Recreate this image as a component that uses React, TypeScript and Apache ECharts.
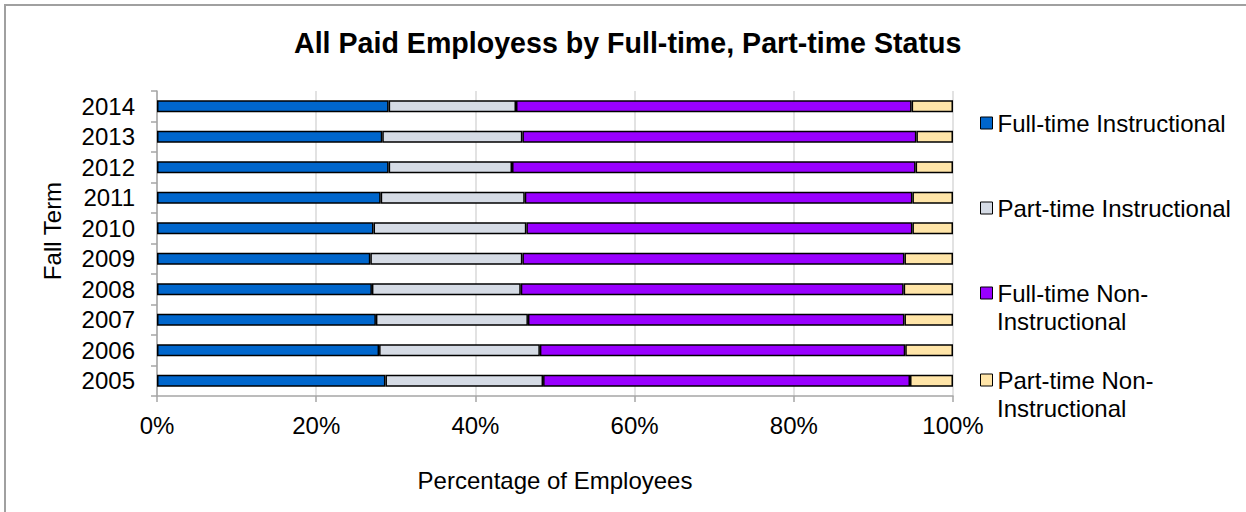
import React, { useEffect, useRef } from "react";
import * as echarts from "echarts";

const years = ["2005", "2006", "2007", "2008", "2009", "2010", "2011", "2012", "2013", "2014"];
const fullTimeInstructional = [28.7, 27.9, 27.5, 27.0, 26.8, 27.2, 28.1, 29.1, 28.3, 29.1];
const partTimeInstructional = [19.8, 20.2, 19.1, 18.7, 19.1, 19.2, 18.1, 15.5, 17.6, 16.0];
const fullTimeNonInstructional = [46.1, 45.9, 47.3, 48.1, 48.0, 48.5, 48.7, 50.7, 49.5, 49.7];
const partTimeNonInstructional = [5.4, 6.0, 6.1, 6.2, 6.1, 5.1, 5.1, 4.7, 4.6, 5.2];

const seriesNames = [
  "Full-time Instructional",
  "Part-time Instructional",
  "Full-time Non-Instructional",
  "Part-time Non-Instructional",
];
const legendFirstLines = [
  "Full-time Instructional",
  "Part-time Instructional",
  "Full-time Non-",
  "Part-time Non-",
];
const legendSecondLines = ["", "", "Instructional", "Instructional"];
const colors = ["#0066CC", "#D5DBE5", "#9900FF", "#FFE5A8"];
const xTicks = [0, 20, 40, 60, 80, 100];

const FONT = "Liberation Sans, Arial, sans-serif";

export default function App() {
  const ref = useRef<HTMLDivElement>(null);

  useEffect(() => {
    if (!ref.current) return;
    const chart = echarts.init(ref.current, null, { renderer: "svg" });
    const dataSets = [
      fullTimeInstructional,
      partTimeInstructional,
      fullTimeNonInstructional,
      partTimeNonInstructional,
    ];
    const legendCenters = [123, 208, 293, 380];
    const legends = seriesNames.map((name, i) => ({
      show: true,
      data: [name],
      left: 980,
      top: legendCenters[i] - 14,
      padding: 0,
      itemWidth: 12,
      itemHeight: 12,
      icon: "rect",
      itemStyle: { borderColor: "#000", borderWidth: 1 },
      formatter: () => legendFirstLines[i],
      textStyle: {
        fontFamily: FONT,
        fontSize: 24,
        color: "#000",
        lineHeight: 28,
      },
    }));
    const secondLineTexts = legendSecondLines
      .map((t, i) => ({ t, i }))
      .filter((o) => o.t)
      .map((o) => ({
        type: "text",
        left: 997,
        top: legendCenters[o.i] + 28 - 14,
        silent: true,
        style: {
          text: o.t,
          font: `24px ${FONT}`,
          fill: "#000",
          lineHeight: 28,
        },
      }));

    chart.setOption({
      animation: false,
      backgroundColor: "#fff",
      title: {
        text: "All Paid Employess by Full-time, Part-time Status",
        left: 294,
        top: 28,
        padding: 0,
        textStyle: { fontFamily: FONT, fontSize: 28.6, fontWeight: "bold", color: "#000" },
      },
      legend: legends,
      grid: { left: 157, right: 293, top: 91, bottom: 116, containLabel: false },
      xAxis: {
        type: "value",
        min: xTicks[0],
        max: xTicks[xTicks.length - 1],
        interval: 20,
        name: "Percentage of Employees",
        nameLocation: "middle",
        nameGap: 72,
        nameTextStyle: { fontFamily: FONT, fontSize: 24, color: "#000" },
        axisLine: { show: true, lineStyle: { color: "#a6a6a6", width: 1.5 } },
        axisTick: { show: true, length: 6, lineStyle: { color: "#a6a6a6", width: 1.5 } },
        axisLabel: {
          formatter: "{value}%",
          margin: 17,
          fontFamily: FONT,
          fontSize: 24,
          color: "#000",
        },
        splitLine: { show: true, lineStyle: { color: "#d9d9d9", width: 1.5 } },
      },
      yAxis: {
        type: "category",
        data: years,
        name: "Fall Term",
        nameLocation: "middle",
        nameGap: 93,
        nameTextStyle: { fontFamily: FONT, fontSize: 24, color: "#000", padding: [0, 0, 0, 25] },
        axisLine: { show: true, lineStyle: { color: "#a6a6a6", width: 1.5 } },
        axisTick: { show: true, length: 6, lineStyle: { color: "#a6a6a6", width: 1.5 } },
        axisLabel: { interval: 0, margin: 22, fontFamily: FONT, fontSize: 24, color: "#000" },
        splitLine: { show: false },
      },
      series: seriesNames.map((name, i) => ({
        name,
        type: "bar",
        stack: "total",
        barWidth: 12,
        data: dataSets[i],
        itemStyle: { color: colors[i], borderColor: "#000", borderWidth: 1.5 },
      })),
      graphic: [
        {
          type: "rect",
          shape: { x: 5, y: 5, width: 1400, height: 700 },
          style: { fill: "none", stroke: "#a0a0a0", lineWidth: 2 },
          silent: true,
        },
        ...secondLineTexts,
      ],
    });
    return () => chart.dispose();
  }, []);

  return (
    <div
      ref={ref}
      style={{ position: "absolute", left: 0, top: 0, width: 1246, height: 512 }}
    />
  );
}
